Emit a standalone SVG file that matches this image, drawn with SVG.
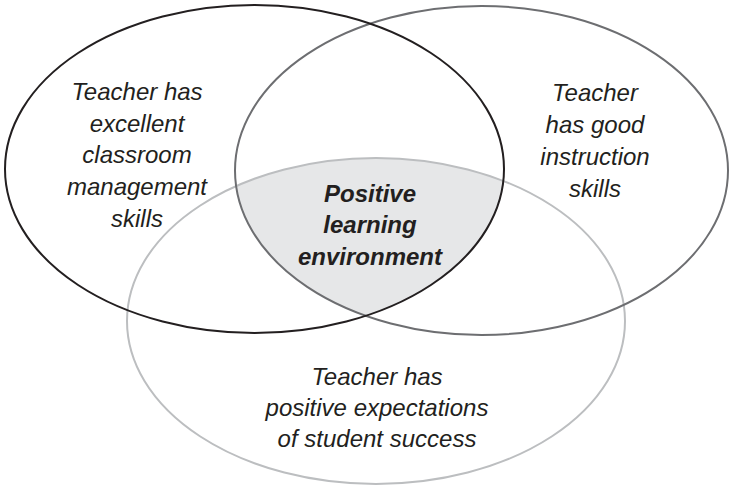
<svg xmlns="http://www.w3.org/2000/svg" width="729" height="486" viewBox="0 0 729 486">
<style>
.lbl{font-family:"Liberation Sans",Arial,sans-serif;font-size:24px;font-style:italic;fill:#231f20;text-anchor:middle}
.bold{font-weight:bold}
.ring{fill:none;stroke-width:2}
</style>
<defs>
<clipPath id="c2"><ellipse cx="481.5" cy="170.5" rx="246.5" ry="164.5"/></clipPath>
<clipPath id="c3"><ellipse cx="376" cy="321" rx="249" ry="163"/></clipPath>
</defs>
<rect width="729" height="486" fill="#ffffff"/>
<g id="overlap">
<g clip-path="url(#c3)"><g clip-path="url(#c2)">
<ellipse cx="254.5" cy="169" rx="249.5" ry="164" fill="#e6e7e8"/>
</g></g>
</g>
<g id="connectors"></g>
<g id="student">
<ellipse class="ring" cx="376" cy="321" rx="249" ry="163" stroke="#bcbec0"/>
<text class="lbl" x="377" y="385">Teacher has</text>
<text class="lbl" x="377" y="416">positive expectations</text>
<text class="lbl" x="377" y="447">of student success</text>
</g>
<g id="instruction">
<ellipse class="ring" cx="481.5" cy="170.5" rx="246.5" ry="164.5" stroke="#6d6e71"/>
<text class="lbl" x="595" y="101">Teacher</text>
<text class="lbl" x="595" y="133">has good</text>
<text class="lbl" x="595" y="165">instruction</text>
<text class="lbl" x="595" y="197">skills</text>
</g>
<g id="management">
<ellipse class="ring" cx="254.5" cy="169" rx="249.5" ry="164" stroke="#231f20"/>
<text class="lbl" x="137" y="100">Teacher has</text>
<text class="lbl" x="137" y="132">excellent</text>
<text class="lbl" x="137" y="163">classroom</text>
<text class="lbl" x="137" y="195">management</text>
<text class="lbl" x="137" y="227">skills</text>
</g>
<g id="center">
<text class="lbl bold" x="370" y="202">Positive</text>
<text class="lbl bold" x="370" y="233">learning</text>
<text class="lbl bold" x="370" y="265">environment</text>
</g>
</svg>
